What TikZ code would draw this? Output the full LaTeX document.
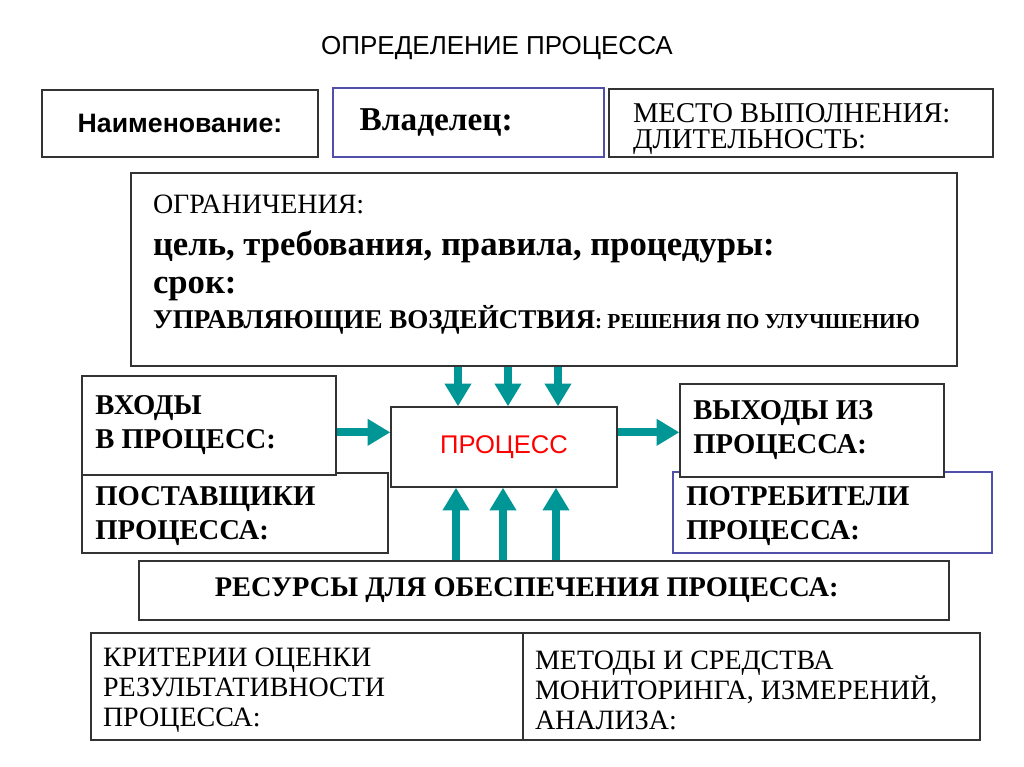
\documentclass[tikz,border=0pt]{standalone}
\usepackage{fontspec}
\setmainfont{Liberation Serif}
\newfontfamily\arialfont{Liberation Sans}
\usepackage{xcolor}
\usetikzlibrary{arrows.meta, positioning}
\definecolor{flowteal}{RGB}{0,150,150}
\definecolor{ownerblue}{RGB}{80,80,170}
\newcommand{\fs}[2]{\fontsize{#1}{#2}\selectfont}

\begin{document}
\begin{tikzpicture}[x=0.75pt, y=-0.75pt, every node/.style={font=\normalfont}]
    % Define styles
    \tikzstyle{box} = [rectangle, draw=black!80, fill=white, line width=1pt, inner sep=0pt]
    \tikzstyle{textbox} = [box, align=flush left, inner xsep=10pt]
    \tikzstyle{heading} = [font=\bfseries\fs{21.5}{25.5pt}]
    \tikzstyle{flow} = [line width=6pt, flowteal, -{Triangle[length=17pt, width=19pt]}]
    \useasboundingbox (0,0) rectangle (1024,767);

    % Title
    \node (title) [font=\arialfont\fs{19.5}{22pt}] at (497,48) {ОПРЕДЕЛЕНИЕ ПРОЦЕССА};

    % Top row
    \node (name) [box, minimum width=207pt, minimum height=50.25pt, font=\arialfont\bfseries\fs{20}{24pt}] at (180,123.5) {Наименование:};
    \node (owner) [textbox, draw=ownerblue, inner xsep=20pt, text width=163.25pt, minimum height=51.75pt, font=\bfseries\fs{25}{28pt}] at (468.5,122.5) {Владелец:};
    \node (place) [textbox, inner xsep=18pt, text width=252pt, minimum height=51pt, font=\fs{21.5}{19.5pt}] at (801,123) {\rule{0pt}{23pt}МЕСТО ВЫПОЛНЕНИЯ:\\ДЛИТЕЛЬНОСТЬ:};

    % Constraints
    \node (limits) [textbox, inner xsep=16.5pt, text width=586.5pt, minimum height=144.75pt, font=\bfseries\fs{26}{28.5pt}] at (544,269.5) {%
        {\mdseries\fs{21}{28.5pt}ОГРАНИЧЕНИЯ:}\\[3pt]
        цель, требования, правила, процедуры:\\
        срок:\\[-2.25pt]
        {\fs{20.3}{28.5pt}УПРАВЛЯЮЩИЕ ВОЗДЕЙСТВИЯ}{\fs{16}{28.5pt}: РЕШЕНИЯ ПО УЛУЧШЕНИЮ}\rule[-11.5pt]{0pt}{11.5pt}};

    % Suppliers and inputs
    \node (suppliers) [textbox, heading, text width=209.5pt, minimum height=60pt] at (235,513) {\rule{0pt}{19.5pt}ПОСТАВЩИКИ\\ПРОЦЕССА:};
    \node (inputs) [textbox, heading, text width=170.5pt, minimum height=74.25pt] at (209,425.5) {ВХОДЫ\\В ПРОЦЕСС:};

    % Consumers and outputs
    \node (consumers) [textbox, heading, draw=ownerblue, text width=219.25pt, minimum height=60.75pt] at (832.5,512.5) {\rule{0pt}{19.5pt}ПОТРЕБИТЕЛИ\\ПРОЦЕССА:};
    \node (outputs) [textbox, heading, text width=178pt, minimum height=69.75pt] at (812,430.5) {ВЫХОДЫ ИЗ\\ПРОЦЕССА:};

    % Process
    \node (process) [box, minimum width=169.5pt, minimum height=60pt, text=red, font=\arialfont\fs{19.2}{22pt}] at (504,447) {ПРОЦЕСС};

    % Resources
    \node (resources) [box, minimum width=607.5pt, minimum height=44.25pt, font=\bfseries\fs{21.3}{25pt}] at (544,590.5) {\hspace{-26pt}\raisebox{3pt}{РЕСУРСЫ ДЛЯ ОБЕСПЕЧЕНИЯ ПРОЦЕССА:}};

    % Evaluation table
    \node (criteria) [textbox, inner xsep=9pt, text width=306pt, minimum height=80.25pt, font=\fs{21}{22.5pt}] at (307,686.5) {\rule{0pt}{20pt}КРИТЕРИИ ОЦЕНКИ\\РЕЗУЛЬТАТИВНОСТИ\\ПРОЦЕССА:};
    \node (methods) [textbox, inner xsep=9pt, text width=324.75pt, minimum height=80.25pt, font=\fs{21}{22.5pt}] at (751.5,686.5) {\rule{0pt}{20pt}МЕТОДЫ И СРЕДСТВА\\МОНИТОРИНГА, ИЗМЕРЕНИЙ,\\АНАЛИЗА:};

    % Control arrows from constraints
    \foreach \dx in {-46,4,54}
        \draw [flow] ([xshift=\dx*0.75pt]process.north |- limits.south) -- ([xshift=\dx*0.75pt]process.north);

    % Resource arrows
    \foreach \dx in {-48,-1,52}
        \draw [flow] ([xshift=\dx*0.75pt]process.south |- resources.north) -- ([xshift=\dx*0.75pt]process.south);

    % Input and output arrows
    \coordinate (flowline) at ([yshift=11pt]process.west);
    \draw [flow] (flowline -| inputs.east) -- (flowline);
    \draw [flow] (process.east |- flowline) -- (flowline -| outputs.west);
\end{tikzpicture}
\end{document}
